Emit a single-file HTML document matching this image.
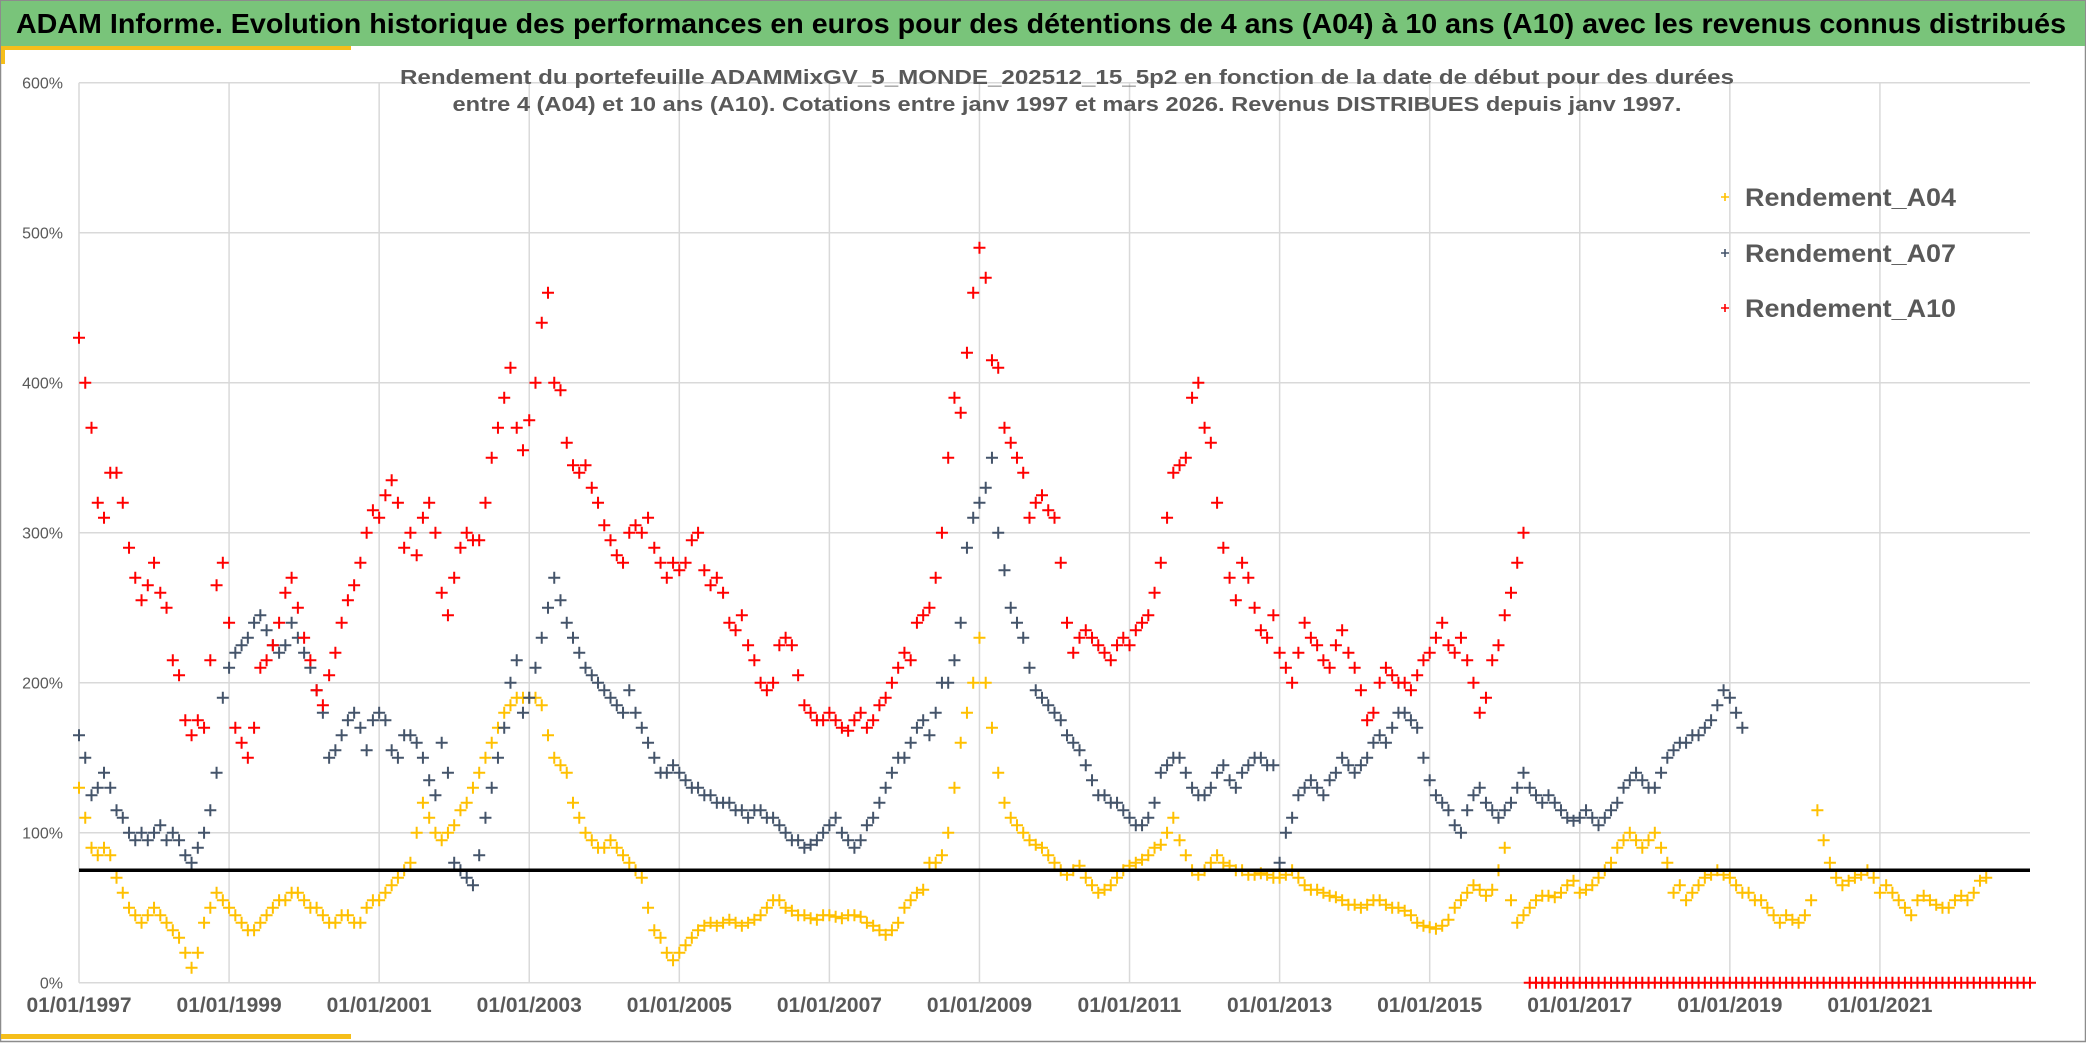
<!DOCTYPE html>
<html><head><meta charset="utf-8"><style>
html,body{margin:0;padding:0;background:#fff;}
body{width:2086px;height:1043px;overflow:hidden;font-family:"Liberation Sans",sans-serif;}
</style></head><body>
<svg id="chart" width="2086" height="1043" xmlns="http://www.w3.org/2000/svg" font-family="Liberation Sans, sans-serif">
<rect x="0.5" y="0.5" width="2085" height="1041" fill="#fff" stroke="#8c8c8c" stroke-width="1.5"/>
<rect x="1" y="1" width="2084" height="45" fill="#79c47a"/>
<text x="16" y="33" font-size="28" font-weight="bold" fill="#000" textLength="2050" lengthAdjust="spacingAndGlyphs">ADAM Informe. Evolution historique des performances en euros pour des détentions de 4 ans (A04) à 10 ans (A10) avec les revenus connus distribués</text>
<rect x="1" y="46" width="350" height="4" fill="#f5be1a"/>
<rect x="1" y="46" width="4" height="18" fill="#f5be1a"/>
<rect x="1" y="1034" width="350" height="5" fill="#f5be1a"/>
<g id="grid"></g>
<g id="yt"></g>
<g id="xt"></g>
<text x="1067" y="84" text-anchor="middle" font-size="20" font-weight="bold" fill="#595959" textLength="1334" lengthAdjust="spacingAndGlyphs">Rendement du portefeuille ADAMMixGV_5_MONDE_202512_15_5p2  en fonction de la date de début pour des durées</text>
<text x="1067" y="111" text-anchor="middle" font-size="20" font-weight="bold" fill="#595959" textLength="1229" lengthAdjust="spacingAndGlyphs">entre 4 (A04) et 10 ans (A10). Cotations entre janv 1997 et mars 2026. Revenus DISTRIBUES depuis janv 1997.</text>
<g id="series"></g>
<g id="legend"></g>
</svg>
<script>
const yTicks=[0,100,200,300,400,500,600];
const xTickYears=[1997,1999,2001,2003,2005,2007,2009,2011,2013,2015,2017,2019,2021];
const refLine=75;
const a04Start=1997, a07Start=1997, a10Start=1997;
const a04=[130,110,90,85,90,85,70,60,50,45,40,45,
50,45,40,35,30,20,10,20,40,50,60,55,
50,45,40,35,35,40,45,50,55,55,60,60,
55,50,50,45,40,40,45,45,40,40,50,55,
55,60,65,70,75,80,100,120,110,100,95,100,
105,115,120,130,140,150,160,170,180,185,190,190,
190,190,185,165,150,145,140,120,110,100,95,90,
90,95,90,85,80,75,70,50,35,30,20,15,
20,25,30,35,38,40,38,40,42,40,38,40,
42,45,50,55,55,50,48,45,45,43,42,45,
45,44,43,45,45,44,40,38,35,32,35,40,
50,55,60,62,80,80,85,100,130,160,180,200,
230,200,170,140,120,110,105,100,95,92,90,85,
80,75,72,75,78,70,65,60,62,65,70,75,
78,80,82,85,90,92,100,110,95,85,75,72,
75,80,85,80,78,75,75,72,72,73,72,70,
70,72,75,70,65,62,62,60,58,57,55,52,
52,50,52,55,55,52,50,50,48,45,40,38,
37,36,38,42,50,55,60,65,62,58,62,75,
90,55,40,45,50,55,58,58,57,60,65,68,
60,62,65,70,75,80,90,95,100,95,90,95,
100,90,80,60,65,55,60,65,70,72,75,72,
70,65,60,60,55,55,50,45,40,45,42,40,
45,55,115,95,80,70,65,68,70,72,75,70,
60,65,60,55,50,45,55,58,55,52,50,50,
55,58,55,60,68,70];
const a07=[165,150,125,130,140,130,115,110,100,95,100,95,
100,105,95,100,95,85,80,90,100,115,140,190,
210,220,225,230,240,245,235,225,220,225,240,230,
220,210,195,180,150,155,165,175,180,170,155,175,
180,175,155,150,165,165,160,150,135,125,160,140,
80,75,70,65,85,110,130,150,170,200,215,180,
190,210,230,250,270,255,240,230,220,210,205,200,
195,190,185,180,195,180,170,160,150,140,140,145,
140,135,130,130,125,125,120,120,120,115,115,110,
115,115,110,110,105,100,95,95,90,92,95,100,
105,110,100,95,90,95,105,110,120,130,140,150,
150,160,170,175,165,180,200,200,215,240,290,310,
320,330,350,300,275,250,240,230,210,195,190,185,
180,175,165,160,155,145,135,125,125,120,120,115,
110,105,105,110,120,140,145,150,150,140,130,125,
125,130,140,145,135,130,140,145,150,150,145,145,
80,100,110,125,130,135,130,125,135,140,150,145,
140,145,150,160,165,160,170,180,180,175,170,150,
135,125,120,115,105,100,115,125,130,120,115,110,
115,120,130,140,130,125,120,125,120,115,110,108,
110,115,110,105,110,115,120,130,135,140,135,130,
130,140,150,155,160,160,165,165,170,175,185,195,
190,180,170];
const a10=[430,400,370,320,310,340,340,320,290,270,255,265,
280,260,250,215,205,175,165,175,170,215,265,280,
240,170,160,150,170,210,215,225,240,260,270,250,
230,215,195,185,205,220,240,255,265,280,300,315,
310,325,335,320,290,300,285,310,320,300,260,245,
270,290,300,295,295,320,350,370,390,410,370,355,
375,400,440,460,400,395,360,345,340,345,330,320,
305,295,285,280,300,305,300,310,290,280,270,280,
275,280,295,300,275,265,270,260,240,235,245,225,
215,200,195,200,225,230,225,205,185,180,175,175,
180,175,170,168,175,180,170,175,185,190,200,210,
220,215,240,245,250,270,300,350,390,380,420,460,
490,470,415,410,370,360,350,340,310,320,325,315,
310,280,240,220,230,235,230,225,220,215,225,230,
225,235,240,245,260,280,310,340,345,350,390,400,
370,360,320,290,270,255,280,270,250,235,230,245,
220,210,200,220,240,230,225,215,210,225,235,220,
210,195,175,180,200,210,205,200,200,195,205,215,
220,230,240,225,220,230,215,200,180,190,215,225,
245,260,280,300,
0,0,0,0,0,0,0,0,
0,0,0,0,0,0,0,0,0,0,0,0,
0,0,0,0,0,0,0,0,0,0,0,0,
0,0,0,0,0,0,0,0,0,0,0,0,
0,0,0,0,0,0,0,0,0,0,0,0,
0,0,0,0,0,0,0,0,0,0,0,0,
0,0,0,0,0,0,0,0,0,0,0,0,
0];
const seriesNames=["Rendement_A04","Rendement_A07","Rendement_A10"];
const seriesColors=["#ffc000","#44546a","#ff0000"];

const NS="http://www.w3.org/2000/svg";
const X0=79, X1=2030, Y0=982.7, Y1=82.7, YR0=1997, YR1=2023;
function xs(yr){return X0+(yr-YR0)*(X1-X0)/(YR1-YR0);}
function ys(v){return Y0-(v/600)*(Y0-Y1);}
function mk(tag,attrs,parent){const e=document.createElementNS(NS,tag);for(const k in attrs)e.setAttribute(k,attrs[k]);parent.appendChild(e);return e;}
const grid=document.getElementById('grid');
yTicks.forEach(v=>{
  const l=mk('line',{x1:X0,x2:X1,y1:ys(v),y2:ys(v),stroke:'#d9d9d9','stroke-width':1.5},grid);
  
  
  const t=mk('text',{x:63,y:ys(v)+6,'text-anchor':'end','font-size':16,fill:'#595959'},document.getElementById('yt'));
  t.textContent=v+'%';
  
  
});
xTickYears.forEach(yr=>{
  const l=mk('line',{x1:xs(yr),x2:xs(yr),y1:Y1,y2:Y0,stroke:'#d9d9d9','stroke-width':1.5},grid);
  
  
  const t=mk('text',{x:xs(yr),y:1012,'text-anchor':'middle','font-size':21,'font-weight':'bold',fill:'#595959'},document.getElementById('xt'));
  t.textContent='01/01/'+yr;
  
  
});
const ser=document.getElementById('series');
function plus(g,x,y,c,s,w){
  mk('path',{d:`M${x-s},${y}H${x+s}M${x},${y-s}V${y+s}`,stroke:c,'stroke-width':w,fill:'none'},g);
}
const all=[[a04,a04Start],[a07,a07Start],[a10,a10Start]];
all.forEach((d,si)=>{
  const g=mk('g',{},ser);
  
  
  d[0].forEach((v,i)=>{plus(g,xs(d[1]+i/12),ys(v),seriesColors[si],6,2);});
});
const ref=mk('line',{x1:X0,x2:X1,y1:ys(refLine),y2:ys(refLine),stroke:'#000','stroke-width':3.5},ser);


const leg=document.getElementById('legend');
seriesNames.forEach((n,i)=>{
  const y=[197,253,308][i];
  const g=mk('g',{},leg);
  
  
  plus(g,1725,y,seriesColors[i],4,1.6);
  const t=mk('text',{x:1745,y:y+9,'font-size':25,'font-weight':'bold',fill:'#595959',textLength:211,lengthAdjust:'spacingAndGlyphs'},g);
  t.textContent=n;
});
</script>
</body></html>
